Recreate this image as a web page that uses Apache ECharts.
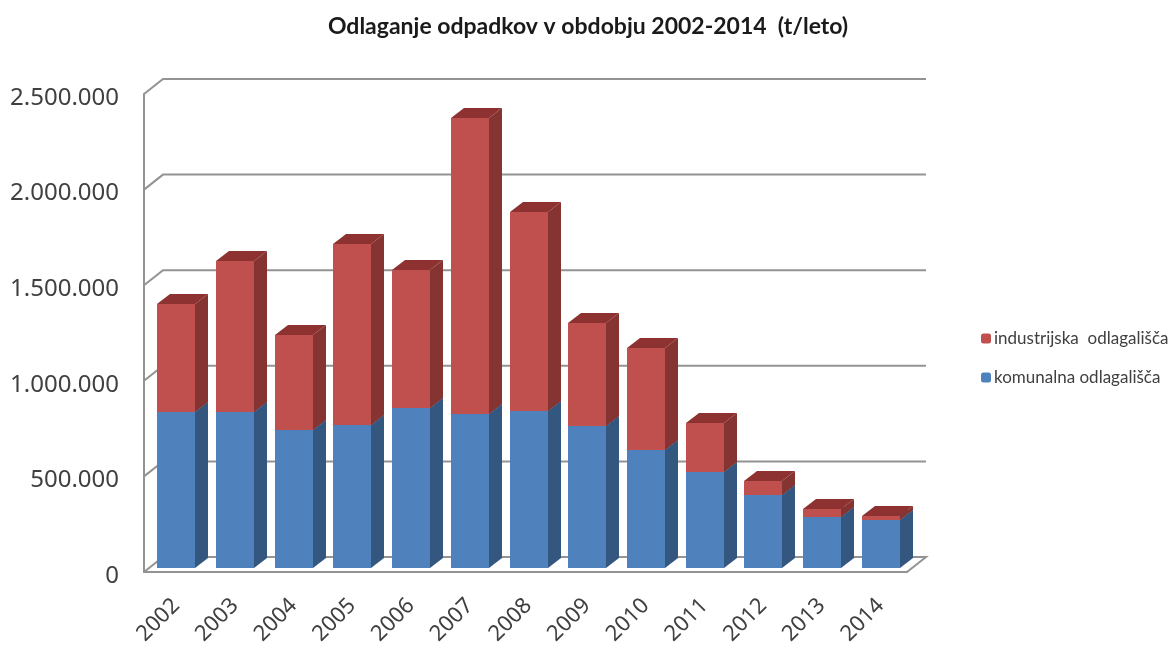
<!DOCTYPE html>
<html><head><meta charset="utf-8">
<style>html,body{margin:0;padding:0;background:#fff}#c{width:1171px;height:645px}</style>
<script src="https://cdn.jsdelivr.net/npm/echarts@6/dist/echarts.min.js"></script>
</head><body><div id="c"></div>
<script>
var years = ['2002','2003','2004','2005','2006','2007','2008','2009','2010','2011','2012','2013','2014'];
var komunalna = [816000,816000,722000,748000,837000,805000,821000,743000,617000,502000,382000,267000,251000];
var industrijska = [565000,789000,497000,947000,721000,1549000,1041000,538000,534000,256000,73000,42000,21000];
var gridValues = [0,500000,1000000,1500000,2000000,2500000];

var WALL_DX = 19, WALL_DY = -15;   // depth of the chart box
var BAR_DX = 13, BAR_DY = -10;     // depth of a column
var BAR_IN_X = 3, BAR_IN_Y = -4;   // columns stand slightly inside the floor
var GRAY = '#939393';

function barItem(values, bases, front, side, top) {
  return function (params, api) {
    var i = api.value(0);
    var w = Math.round(api.size([1, 0])[0] * 0.64);
    var a = api.coord([i, bases[i]]);
    var b = api.coord([i, bases[i] + values[i]]);
    var x0 = Math.round(a[0] - w / 2 + BAR_IN_X), x1 = x0 + w;
    var y0 = Math.round(a[1] + BAR_IN_Y), y1 = Math.round(b[1] + BAR_IN_Y);
    return { type: 'group', children: [
      { type: 'polygon', shape: { points: [[x1,y0],[x1+BAR_DX,y0+BAR_DY],[x1+BAR_DX,y1+BAR_DY],[x1,y1]] }, style: { fill: side } },
      { type: 'polygon', shape: { points: [[x0,y1],[x1,y1],[x1+BAR_DX,y1+BAR_DY],[x0+BAR_DX,y1+BAR_DY]] }, style: { fill: top } },
      { type: 'rect', shape: { x: x0, y: y1, width: w, height: y0 - y1 }, style: { fill: front } }
    ]};
  };
}
function wallItem(params, api) {
  var v = api.value(0);
  var cs = params.coordSys;
  var y = api.coord([0, v])[1];
  var xl = cs.x, xr = cs.x + cs.width;
  var pts = [[xl, y], [xl + WALL_DX, y + WALL_DY], [xr + WALL_DX, y + WALL_DY]];
  if (v === 0) pts.push([xr, y]);
  return { type: 'polyline', shape: { points: pts }, style: { stroke: GRAY, lineWidth: 2, fill: null } };
}
var komBase = years.map(function () { return 0; });
var chart = echarts.init(document.getElementById('c'), null, { renderer: 'canvas' });
chart.setOption({
  animation: false,
  backgroundColor: '#fff',
  title: { text: 'Odlaganje odpadkov v obdobju 2002-2014  (t/leto)', left: 588, top: 15, padding: 0, textAlign: 'center',
    textStyle: { fontFamily: 'Lato', fontWeight: 'bold', fontSize: 23, color: '#1a1a1a' } },
  legend: { orient: 'vertical', left: 976, top: 325, itemWidth: 10, itemHeight: 10, itemGap: 22, itemStyle: { borderWidth: 0 },
    data: ['industrijska  odlagališča', 'komunalna odlagališča'],
    textStyle: { fontFamily: 'Lato', fontSize: 17, color: '#404040', padding: [0,0,0,-2] } },
  grid: { left: 144, top: 94, width: 763, height: 478, outerBoundsMode: 'none' },
  xAxis: { type: 'category', data: years, axisTick: { show: false },
    axisLine: { lineStyle: { color: GRAY, width: 2 } },
    axisLabel: { rotate: 45, margin: 33, interval: 0, fontFamily: 'Noto Sans', fontSize: 22, color: '#404040', padding: [0,-4,0,0] } },
  yAxis: { type: 'value', min: 0, max: 2500000, interval: 500000, splitLine: { show: false }, axisTick: { show: false },
    axisLine: { show: true, lineStyle: { color: GRAY, width: 2 } },
    axisLabel: { margin: 25, fontFamily: 'Noto Sans', fontSize: 24, color: '#404040', verticalAlign: 'top', lineHeight: 8,
      formatter: function (v) { return String(v).replace(/\B(?=(\d{3})+$)/g, '.'); } } },
  series: [
    { type: 'custom', name: 'wall', silent: true, z: 1, data: gridValues.map(function (v) { return [v]; }), encode: { y: 0 }, renderItem: wallItem, clip: false },
    { type: 'custom', name: 'komunalna odlagališča', z: 3, itemStyle: { color: '#4f81bd' }, clip: false,
      data: years.map(function (y, i) { return [i, komunalna[i]]; }), encode: { x: 0, y: 1 },
      renderItem: barItem(komunalna, komBase, '#4f81bd', '#33577f', '#33577f') },
    { type: 'custom', name: 'industrijska  odlagališča', z: 4, itemStyle: { color: '#c0504d' }, clip: false,
      data: years.map(function (y, i) { return [i, komunalna[i] + industrijska[i]]; }), encode: { x: 0, y: 1 },
      renderItem: barItem(industrijska, komunalna, '#c0504d', '#853432', '#8d3230') }
  ]
});
</script></body></html>
